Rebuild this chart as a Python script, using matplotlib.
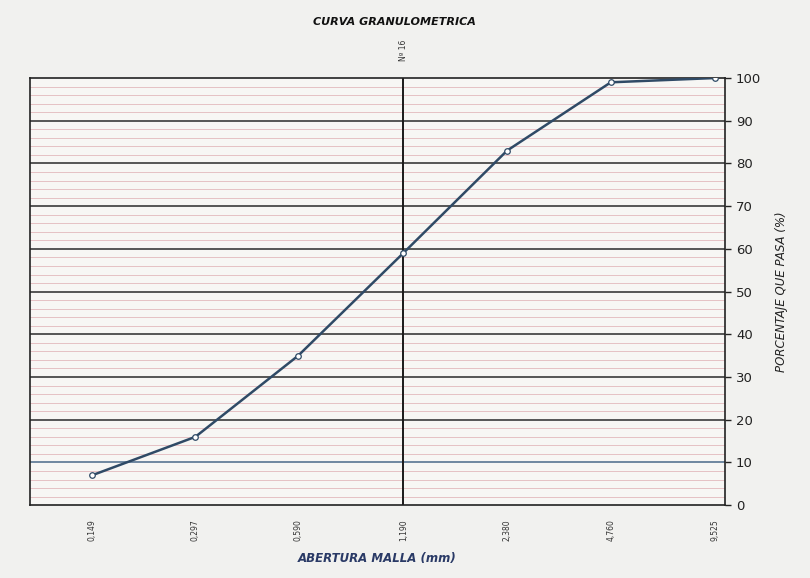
import matplotlib.pyplot as plt
from matplotlib.ticker import FixedLocator, NullLocator

# tamices y porcentaje que pasa
aberturas = [0.149, 0.297, 0.590, 1.190, 2.380, 4.760, 9.525]
etiquetas = ['0,149', '0,297', '0,590', '1,190', '2,380', '4,760', '9,525']
pasa = [7, 16, 35, 59, 83, 99, 100]

fig = plt.figure(figsize=(8.1, 5.78), dpi=100)
fig.patch.set_facecolor('#f1f1ef')
ax = fig.add_axes([0.037, 0.126, 0.858, 0.739])
ax.set_facecolor('#f7f6f4')

ax.set_xscale('log')
ax.set_xlim(0.0984, 10.2)
ax.set_ylim(0, 100)

# cuadricula: cada 2 % en rosado, cada 10 % en negro
for y in range(2, 100, 2):
    if y % 10:
        ax.axhline(y, color='#e2b8bd', lw=0.6, zorder=1)
for y in range(10, 100, 10):
    c = '#4a6a8a' if y == 10 else '#2a2a2a'
    ax.axhline(y, color=c, lw=1.1, zorder=2)
ax.axvline(1.19, color='#1a1a1a', lw=1.4, zorder=2)
ax.text(1.19, 104, 'Nº 16', rotation=90, ha='center', va='bottom', fontsize=5.5, color='#333333')

ax.plot(aberturas, pasa, color='#2f4a66', lw=1.8, marker='o', ms=4,
        mfc='white', mec='#2f4a66', mew=0.9, zorder=4)

for s in ax.spines.values():
    s.set_color('#222222')
    s.set_linewidth(1.2)

ax.xaxis.set_major_locator(FixedLocator(aberturas))
ax.xaxis.set_minor_locator(NullLocator())
ax.set_xticklabels(etiquetas, rotation=90, fontsize=5.5, color='#333333')
ax.tick_params(axis='x', length=0, pad=10)

ax.yaxis.tick_right()
ax.yaxis.set_label_position('right')
ax.set_yticks(range(0, 101, 10))
ax.tick_params(axis='y', length=4, width=1, colors='#222222', labelsize=9.5, pad=4)

ax.set_ylabel('PORCENTAJE QUE PASA (%)', fontsize=8.5, style='italic', color='#222222', labelpad=10)
ax.set_xlabel('ABERTURA MALLA (mm)', fontsize=8.5, style='italic', fontweight='bold', color='#2a3a66', labelpad=8)
fig.text(0.487, 0.962, 'CURVA GRANULOMETRICA', ha='center', va='center',
         fontsize=8, style='italic', fontweight='bold', color='#111111')

fig.savefig('out.png', dpi=100, facecolor=fig.get_facecolor())
